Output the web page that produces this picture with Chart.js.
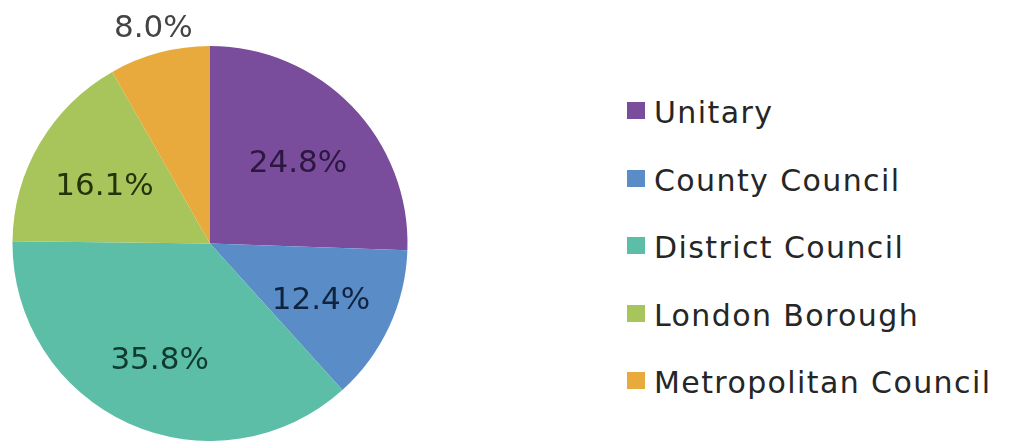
<!DOCTYPE html>
<html>
<head>
<meta charset="utf-8">
<script src="https://cdn.jsdelivr.net/npm/chart.js@4/dist/chart.umd.min.js"></script>
<style>
    html, body { margin: 0; padding: 0; background: #fff; }
    #wrap { position: relative; width: 1011px; height: 441px; overflow: hidden; }
    #pieChart { position: absolute; left: 0; top: 0; }
    #legend { position: absolute; left: 627px; top: 79px; font-family: "DejaVu Sans", sans-serif; }
    .row { position: relative; height: 67.5px; width: 384px; }
    .box { position: absolute; left: 0; top: 23px; width: 18px; height: 17px; }
    .txt { position: absolute; left: 27px; top: 0; line-height: 67.5px; font-size: 30px; letter-spacing: 1.4px; color: #262626; white-space: nowrap; }
</style>
</head>
<body>
<div id="wrap">
    <canvas id="pieChart" width="420" height="441"></canvas>
    <div id="legend"></div>
</div>
<script>
const categories = ['Unitary', 'County Council', 'District Council', 'London Borough', 'Metropolitan Council'];
const shares = [24.8, 12.4, 35.8, 16.1, 8.0];
const sliceColors = ['#7a4c9c', '#5a8dc8', '#5cbea7', '#a8c55b', '#e8aa3d'];
const labelColors = ['#2c1740', '#10243f', '#0f3a30', '#24330c', '#444444'];

// draws the percentage on each slice (small ones go outside)
const sliceLabels = {
    id: 'sliceLabels',
    afterDatasetsDraw(chart) {
        const ctx = chart.ctx;
        const meta = chart.getDatasetMeta(0);
        const total = shares.reduce((a, b) => a + b, 0);
        ctx.save();
        ctx.font = '31px "DejaVu Sans", sans-serif';
        ctx.textAlign = 'center';
        ctx.textBaseline = 'middle';
        meta.data.forEach((arc, i) => {
            const p = arc.getProps(['x', 'y', 'startAngle', 'endAngle', 'outerRadius'], true);
            const mid = (p.startAngle + p.endAngle) / 2;
            const outside = shares[i] / total < 0.1;
            const r = outside ? p.outerRadius + 24 : p.outerRadius * 0.62;
            const dy = outside ? 0 : 6;
            ctx.fillStyle = labelColors[i];
            ctx.fillText(shares[i].toFixed(1) + '%', p.x + Math.cos(mid) * r, p.y + Math.sin(mid) * r + dy);
        });
        ctx.restore();
    }
};

const canvas = document.getElementById('pieChart');
const chart = new Chart(canvas.getContext('2d'), {
    type: 'pie',
    data: {
        labels: categories,
        datasets: [{
            data: shares,
            backgroundColor: sliceColors,
            borderWidth: 0
        }]
    },
    options: {
        responsive: false,
        animation: false,
        devicePixelRatio: 1,
        layout: { padding: { top: 46, bottom: 0, left: 12, right: 12 } },
        plugins: {
            legend: { display: false },
            tooltip: { enabled: false }
        }
    },
    plugins: [sliceLabels]
});

// html legend built from the chart's own legend items
const legendEl = document.getElementById('legend');
chart.options.plugins.legend.labels.generateLabels(chart).forEach(item => {
    const row = document.createElement('div');
    row.className = 'row';
    const box = document.createElement('span');
    box.className = 'box';
    box.style.background = item.fillStyle;
    const txt = document.createElement('span');
    txt.className = 'txt';
    txt.textContent = item.text;
    row.appendChild(box);
    row.appendChild(txt);
    legendEl.appendChild(row);
});
</script>
</body>
</html>
